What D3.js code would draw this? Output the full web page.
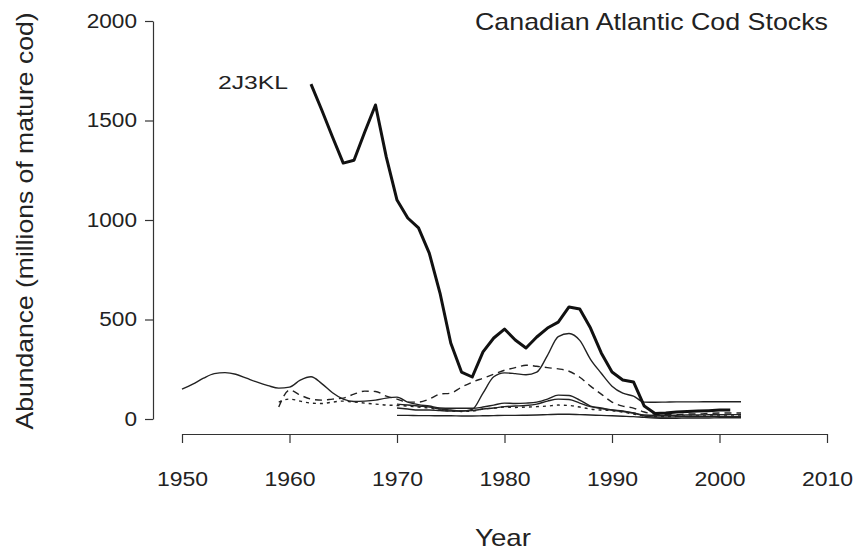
<!DOCTYPE html>
<html>
<head>
<meta charset="utf-8">
<script src="https://cdn.jsdelivr.net/npm/d3@7"></script>
<style>
  html, body { margin: 0; padding: 0; background: #fff; }
  svg { display: block; font-family: "Liberation Sans", Arial, Helvetica, sans-serif; }
</style>
</head>
<body>
<svg id="chart" width="859" height="556"></svg>
<script>
// ---- Data ----
const xTicks = [1950, 1960, 1970, 1980, 1990, 2000, 2010];
const yTicks = [0, 500, 1000, 1500, 2000];

const titleText = "Canadian Atlantic Cod Stocks";
const xLabel = "Year";
const yLabel = "Abundance (millions of mature cod)";
const seriesLabel = "2J3KL";

// 2J3KL (thick line), annual from 1962
const start2J3KL = 1962;
const values2J3KL = [1683, 1553, 1417, 1286, 1300, 1442, 1578, 1317, 1100, 1010,
  960, 834, 633, 382, 236, 211, 337, 407, 452, 397,
  357, 412, 457, 487, 563, 553, 457, 332, 236, 196,
  186, 65, 28, 30, 35, 38, 40, 42, 45, 45];

// thin solid, from 1950
const startA = 1950;
const valuesA = [150, 175, 205, 228, 233, 225, 205, 185, 168, 155,
  160, 195, 212, 178, 132, 100, 88, 90, 95, 105,
  110, 85, 72, 65, 55, 54, 54, 54, 60, 70,
  80, 78, 80, 85, 100, 120, 118, 95, 65, 55,
  45, 40, 30, 15, 10, 10, 11, 12, 12, 12, 13, 12, 12];

// thin solid, from 1970
const startB = 1970;
const valuesB = [55, 50, 45, 45, 42, 40, 40, 48, 130, 212,
  232, 228, 222, 235, 320, 414, 430, 395, 300, 230,
  165, 130, 115, 85, 84, 85, 86, 86, 86, 87, 87, 87, 87];

// dashed (long), from 1959
const startC = 1959;
const valuesC = [60, 145, 120, 100, 95, 100, 105, 125, 140, 138,
  115, 100, 85, 85, 100, 125, 130, 160, 185, 205,
  225, 245, 258, 270, 265, 258, 252, 240, 210, 165,
  125, 85, 65, 55, 35, 25, 22, 22, 25, 25, 28, 30, 30, 30];

// dashed (short), from 1959
const startD = 1959;
const valuesD = [85, 100, 90, 80, 78, 85, 90, 85, 80, 75,
  70, 68, 65, 60, 55, 45, 40, 38, 40, 50,
  55, 60, 58, 60, 62, 65, 70, 68, 60, 50,
  45, 42, 35, 25, 15, 12, 12, 13, 14, 15, 15, 15, 15, 15];

// thin solid, from 1970
const startE = 1970;
const valuesE = [75, 70, 65, 60, 50, 45, 40, 42, 50, 55,
  62, 65, 68, 75, 90, 100, 98, 80, 62, 52,
  45, 38, 30, 20, 18, 18, 19, 20, 20, 21, 22, 22, 22];

// thin solid near bottom, from 1970
const startF = 1970;
const valuesF = [18, 18, 17, 17, 16, 16, 15, 15, 16, 17,
  18, 18, 19, 20, 22, 24, 24, 22, 20, 18,
  16, 14, 12, 8, 5, 4, 4, 5, 5, 5, 6, 6, 6];

// ---- Chart ----
const svg = d3.select("#chart");
svg.append("rect").attr("width", 859).attr("height", 556).attr("fill", "#fff");

const x = d3.scaleLinear().domain([1950, 2010]).range([182, 827]);
const y = d3.scaleLinear().domain([0, 2000]).range([419, 21]);

function stretch(sel, f) {
  sel.each(function () {
    const l = this.getComputedTextLength();
    d3.select(this).attr("textLength", l * f).attr("lengthAdjust", "spacingAndGlyphs");
  });
}

// Y axis
const gy = svg.append("g").attr("transform", "translate(153,0)")
  .call(d3.axisLeft(y).tickValues(yTicks).tickFormat(d3.format("d"))
    .tickSize(8).tickSizeOuter(0).tickPadding(8));
gy.select(".domain").attr("stroke", "#333").attr("stroke-width", 1.2);
gy.selectAll(".tick line").attr("stroke", "#333").attr("stroke-width", 1.2);
gy.selectAll(".tick text").attr("font-size", 20).attr("fill", "#222")
  .attr("font-family", "Liberation Sans, Arial, sans-serif");
stretch(gy.selectAll(".tick text"), 1.13);

// X axis
const gx = svg.append("g").attr("transform", "translate(0,434)")
  .call(d3.axisBottom(x).tickValues(xTicks).tickFormat(d3.format("d"))
    .tickSize(9).tickSizeOuter(0).tickPadding(29));
gx.select(".domain").attr("stroke", "#333").attr("stroke-width", 1.2);
gx.selectAll(".tick line").attr("stroke", "#333").attr("stroke-width", 1.2);
gx.selectAll(".tick text").attr("font-size", 20).attr("fill", "#222")
  .attr("font-family", "Liberation Sans, Arial, sans-serif");
stretch(gx.selectAll(".tick text"), 1.15);

// Lines
function pts(start, vals) { return vals.map((v, i) => [start + i, v]); }
const lineSmooth = d3.line().x(d => x(d[0])).y(d => y(d[1])).curve(d3.curveMonotoneX);
const lineLin = d3.line().x(d => x(d[0])).y(d => y(d[1]));

const thin = [
  { data: pts(startA, valuesA), dash: null },
  { data: pts(startB, valuesB), dash: null },
  { data: pts(startC, valuesC), dash: "7,5" },
  { data: pts(startD, valuesD), dash: "3,4" },
  { data: pts(startE, valuesE), dash: null },
  { data: pts(startF, valuesF), dash: null }
];
svg.append("g").selectAll("path").data(thin).join("path")
  .attr("d", d => lineSmooth(d.data))
  .attr("fill", "none")
  .attr("stroke", "#222")
  .attr("stroke-width", 1.4)
  .attr("stroke-dasharray", d => d.dash);

svg.append("path")
  .attr("d", lineLin(pts(start2J3KL, values2J3KL)))
  .attr("fill", "none")
  .attr("stroke", "#111")
  .attr("stroke-width", 3)
  .attr("stroke-linejoin", "round");

// Texts
const t = svg.append("text").attr("x", 475).attr("y", 30)
  .attr("font-size", 24).attr("fill", "#222").text(titleText);
stretch(t, 353 / t.node().getComputedTextLength());

const s = svg.append("text").attr("x", 218).attr("y", 89)
  .attr("font-size", 19).attr("fill", "#222").text(seriesLabel);
stretch(s, 70 / s.node().getComputedTextLength());

const xl = svg.append("text").attr("x", 503).attr("y", 546).attr("text-anchor", "middle")
  .attr("font-size", 24).attr("fill", "#222").text(xLabel);
stretch(xl, 56 / xl.node().getComputedTextLength());

const yl = svg.append("text").attr("transform", "translate(33,221) rotate(-90)")
  .attr("text-anchor", "middle")
  .attr("font-size", 24).attr("fill", "#222").text(yLabel);
stretch(yl, 417 / yl.node().getComputedTextLength());
</script>
</body>
</html>
